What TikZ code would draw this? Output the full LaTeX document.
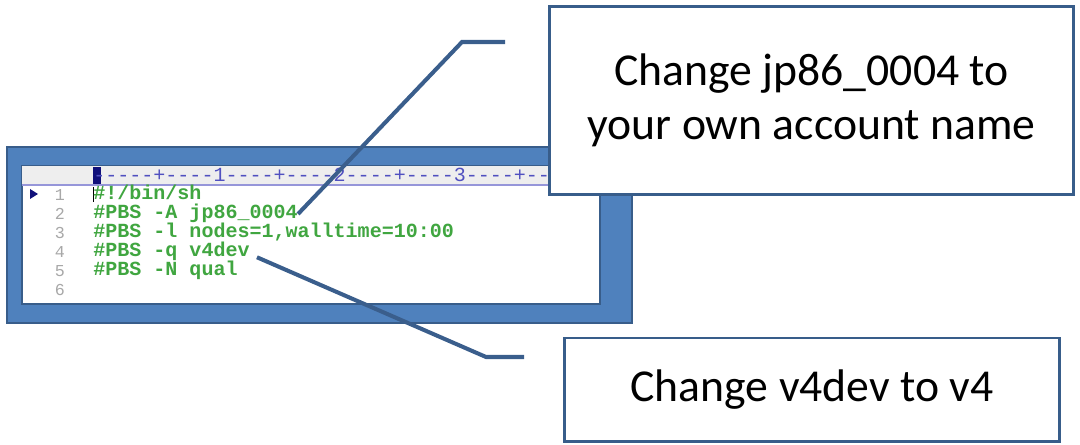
\documentclass[tikz,border=0pt]{standalone}
\usepackage{fontspec}
\usepackage{tikz}
\setmainfont{Carlito}
\newfontfamily\codefont{Liberation Mono}
\definecolor{frameBlue}{HTML}{4F81BD}
\definecolor{frameLine}{HTML}{385D8A}
\definecolor{leaderBlue}{HTML}{3A5E8C}
\definecolor{rulerGrey}{HTML}{EEEEEE}
\definecolor{rulerInk}{HTML}{5050C0}
\definecolor{codeGreen}{HTML}{40A640}
\definecolor{lineNoGrey}{HTML}{A8A8A8}
\definecolor{cursorBlue}{HTML}{10107A}
\tikzset{
  notebox/.style={rectangle, draw=frameLine, fill=white, line width=1.7pt, align=center, font=\fontsize{26}{31}\selectfont, inner sep=4pt},
  leader/.style={draw=leaderBlue, line width=2.3pt},
  codeline/.style={anchor=west, inner sep=0pt, text height=7pt, text depth=2pt, text=codeGreen, font=\codefont\bfseries\fontsize{11.4}{13}\selectfont},
  lineno/.style={anchor=center, inner sep=0pt, text height=7pt, text depth=1pt, text=lineNoGrey, font=\codefont\fontsize{9.5}{11}\selectfont},
  rulertext/.style={anchor=west, inner sep=0pt, text height=7pt, text depth=1pt, text=rulerInk, font=\codefont\fontsize{11.4}{13}\selectfont},
}
\begin{document}
\begin{tikzpicture}[x=0.02cm,y=-0.02cm]
  \useasboundingbox (0,0) rectangle (1080,445);

  % editor window
  \draw[frameLine, fill=frameBlue, line width=1.5pt] (7,147) rectangle (632,323);
  \draw[frameLine, fill=white, line width=0.6pt] (22,166) rectangle (600,304);
  \fill[rulerGrey] (22.3,166.3) rectangle (599.7,184);
  \draw[rulerInk!60, line width=0.8pt] (22,185) -- (600,185);
  \fill[cursorBlue] (93,167) rectangle (101,184);
  \node[rulertext] (ruler) at (93,176) {-----+----1----+----2----+----3----+---};
  \fill[cursorBlue] (30,189) -- (38,194) -- (30,199) -- cycle;
  \fill[black] (92.5,187) rectangle (94,202);

  \foreach \n in {1,...,6} { \node[lineno] (no\n) at (60,{195+19*(\n-1)}) {\n}; }

  \node[codeline] (line1) at (93,195) {\#!/bin/sh};
  \node[codeline] (line2) at (93,214) {\#PBS -A jp86\_0004};
  \node[codeline] (line3) at (93,233) {\#PBS -l nodes=1,walltime=10:00};
  \node[codeline] (line4) at (93,252) {\#PBS -q v4dev};
  \node[codeline] (line5) at (93,271) {\#PBS -N qual};

  % callouts
  \node[notebox, minimum width=10.5cm, minimum height=3.78cm] (acctnote) at (811.5,100.5) {Change jp86\_0004 to\\your own account name};
  \node[notebox, minimum width=9.92cm, minimum height=2.08cm] (queuenote) at (812,390) {Change v4dev to v4};

  \coordinate (acctbend) at (462,42);
  \coordinate (accttip)  at (505,42);
  \coordinate (queuebend) at (486,357);
  \coordinate (queuetip)  at (524,357);
  \draw[leader] (line2.east) -- (acctbend) -- (accttip);
  \draw[leader] ([xshift=4pt,yshift=-3pt]line4.east) -- (queuebend) -- (queuetip);
\end{tikzpicture}
\end{document}
